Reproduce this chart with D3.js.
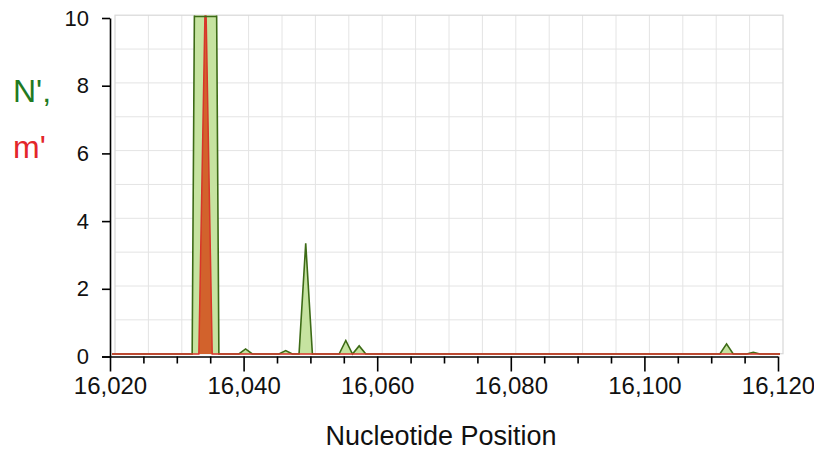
<!DOCTYPE html>
<html>
<head>
<meta charset="utf-8">
<script src="https://cdn.jsdelivr.net/npm/d3@7"></script>
<style>
  html, body { margin: 0; padding: 0; background: #fff; }
  svg { display: block; font-family: "Liberation Sans", Arial, sans-serif; }
</style>
</head>
<body>
<svg id="chart" width="814" height="450"></svg>
<script>
// Nucleotide positions and the two per-site series (N' green, m' red).
// Positions between listed points are zero; the plot clips at 10.
const nPositions = [16020, 16032, 16033, 16034, 16035, 16036, 16039, 16040, 16041,
                    16045, 16046, 16047, 16048, 16049, 16050, 16054, 16055, 16056,
                    16057, 16058, 16111, 16112, 16113, 16115, 16116, 16117, 16120];
const nValues    = [0, 0, 30, 30, 30, 0, 0, 0.15, 0,
                    0, 0.1, 0, 0, 3.27, 0, 0, 0.4, 0,
                    0.24, 0, 0, 0.3, 0, 0, 0.05, 0, 0];

const mPositions = [16020, 16033, 16034, 16035, 16120];
const mValues    = [0, 0, 11, 0, 0];

const xDomain = [16020, 16120];
const yDomain = [0, 10];
const xMajorTicks = [16020, 16040, 16060, 16080, 16100, 16120];
const xMinorTicks = [16025, 16030, 16035, 16045, 16050, 16055, 16065, 16070, 16075,
                     16085, 16090, 16095, 16105, 16110, 16115];
const yTicks = [0, 2, 4, 6, 8, 10];
const gridX = [16025, 16030, 16035, 16040, 16045, 16050, 16055, 16060, 16065, 16070,
               16075, 16080, 16085, 16090, 16095, 16100, 16105, 16110, 16115];
const gridY = [1, 2, 3, 4, 5, 6, 7, 8, 9];

const svg = d3.select("#chart");

const x = d3.scaleLinear().domain(xDomain).range([110, 778]);
const y = d3.scaleLinear().domain(yDomain).range([356.5, 18]);

const fmt = d3.format(",");

// Plot frame with light grid (sits slightly offset from the axes)
const frame = svg.append("g").attr("transform", "translate(5,-2.8)");
frame.append("g").selectAll("line").data(gridX).join("line")
  .attr("x1", d => x(d)).attr("x2", d => x(d))
  .attr("y1", y(10)).attr("y2", y(0))
  .attr("stroke", "#e4e4e4").attr("stroke-width", 1);
frame.append("g").selectAll("line").data(gridY).join("line")
  .attr("x1", x(16020)).attr("x2", x(16120))
  .attr("y1", d => y(d)).attr("y2", d => y(d))
  .attr("stroke", "#e4e4e4").attr("stroke-width", 1);
frame.append("rect")
  .attr("x", x(16020)).attr("y", y(10))
  .attr("width", x(16120) - x(16020)).attr("height", y(0) - y(10))
  .attr("fill", "none").attr("stroke", "#d8d8d8").attr("stroke-width", 1.2);

// Data layer
const plot = svg.append("g").attr("transform", "translate(2,-2.5)");
const topY = y(10) + 1;
const defs = plot.append("defs");
defs.append("clipPath").attr("id", "clip")
  .append("rect")
  .attr("x", x(16020) - 2).attr("y", topY - 1)
  .attr("width", x(16120) - x(16020) + 4).attr("height", y(0) - topY + 6);

const nData = nPositions.map((p, i) => ({ p, v: nValues[i] }));
const mData = mPositions.map((p, i) => ({ p, v: mValues[i] }));

const area = d3.area().x(d => x(d.p)).y0(y(0)).y1(d => y(d.v));
const line = d3.line().x(d => x(d.p)).y(d => y(d.v));

// clip shaped like the N' area, used to draw its edge where it meets the top
defs.append("clipPath").attr("id", "nclip")
  .append("path").datum(nData).attr("d", area);

const layer = plot.append("g").attr("clip-path", "url(#clip)");

layer.append("path").datum(nData)
  .attr("d", area).attr("fill", "#c6e3a0");
layer.append("path").datum(mData)
  .attr("d", area).attr("fill", "#d2622c");
layer.append("path").datum(nData)
  .attr("d", line).attr("fill", "none")
  .attr("stroke", "#3d6b16").attr("stroke-width", 1.6).attr("stroke-linejoin", "miter");
layer.append("path").datum(mData)
  .attr("d", line).attr("fill", "none")
  .attr("stroke", "#d8352a").attr("stroke-width", 1.5);

// top edge of the clipped N' shape
plot.append("g").attr("clip-path", "url(#nclip)")
  .append("line")
  .attr("x1", x(16020)).attr("x2", x(16120))
  .attr("y1", topY).attr("y2", topY)
  .attr("stroke", "#3d6b16").attr("stroke-width", 1.6);

// Y axis
const yAxis = svg.append("g").attr("transform", `translate(${x(16020)},0)`)
  .call(d3.axisLeft(y).tickValues(yTicks).tickSize(8).tickSizeOuter(0).tickPadding(13));
yAxis.select(".domain").attr("stroke", "#000").attr("stroke-width", 1.6);
yAxis.selectAll(".tick line").attr("stroke", "#000").attr("stroke-width", 1.6);
yAxis.selectAll(".tick text").attr("font-size", 22).attr("fill", "#111")
  .attr("font-family", "Liberation Sans, Arial, sans-serif");

// X axis: minor ticks every 5, labelled major ticks every 20
const xAxisMinor = svg.append("g").attr("transform", `translate(0,${y(0)})`)
  .call(d3.axisBottom(x).tickValues(xMinorTicks).tickSize(7).tickSizeOuter(0).tickFormat(""));
xAxisMinor.select(".domain").remove();
xAxisMinor.selectAll(".tick line").attr("stroke", "#000").attr("stroke-width", 1.6);

const xAxis = svg.append("g").attr("transform", `translate(0,${y(0)})`)
  .call(d3.axisBottom(x).tickValues(xMajorTicks).tickSize(15).tickSizeOuter(0)
    .tickPadding(5).tickFormat(fmt));
xAxis.select(".domain").attr("stroke", "#000").attr("stroke-width", 1.6)
  .attr("d", `M${x(16020) - 8},0.5H${x(16120)}`);
xAxis.selectAll(".tick line").attr("stroke", "#000").attr("stroke-width", 1.6);
xAxis.selectAll(".tick text").attr("font-size", 24).attr("fill", "#111")
  .attr("font-family", "Liberation Sans, Arial, sans-serif");

// Axis titles
svg.append("text")
  .attr("x", 441).attr("y", 445)
  .attr("text-anchor", "middle")
  .attr("font-size", 27).attr("fill", "#111")
  .text("Nucleotide Position");

svg.append("text")
  .attr("x", 13).attr("y", 102)
  .attr("font-size", 32).attr("fill", "#1f7a22")
  .text("N',");
svg.append("text")
  .attr("x", 13).attr("y", 158)
  .attr("font-size", 32).attr("fill", "#e3262a")
  .text("m'");
</script>
</body>
</html>
